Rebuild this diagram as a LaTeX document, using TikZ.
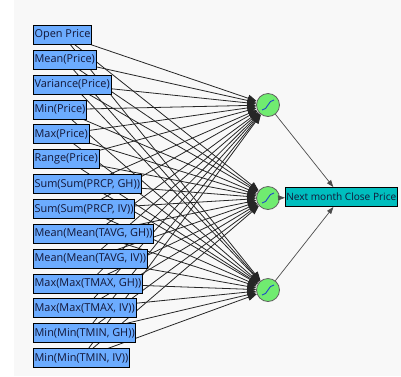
\documentclass[tikz,border=0pt]{standalone}
\usepackage{fontspec}
\setmainfont{Open Sans}
\usetikzlibrary{arrows.meta,backgrounds}

\definecolor{inBlue}{RGB}{108,172,255}
\definecolor{outTeal}{RGB}{0,190,190}
\definecolor{cellGreen}{RGB}{112,236,112}
\definecolor{sigBlue}{RGB}{30,70,200}
\definecolor{inkNavy}{RGB}{18,22,55}
\definecolor{paneGray}{RGB}{248,248,248}

\begin{document}
\begin{tikzpicture}[
    x=1pt, y=-1pt,
    font=\fontsize{10.9}{13}\selectfont,
    inbox/.style={draw=black, fill=inBlue, text=inkNavy, line width=0.9pt,
      inner xsep=1.2pt, inner ysep=0pt, minimum height=19pt, anchor=west},
    outbox/.style={draw=black, fill=outTeal, text=inkNavy, line width=0.9pt,
      font=\fontsize{10.1}{12}\selectfont,
      inner xsep=0.8pt, inner ysep=0pt, minimum height=19pt, anchor=west},
    neuron/.style={circle, draw=gray!75!black, fill=cellGreen, line width=0.8pt,
      minimum size=23pt, inner sep=0pt,
      path picture={\draw[sigBlue, line width=0.9pt]
        ([shift={(-6,5)}]path picture bounding box.center)
        .. controls +(6,0) and +(-6,0) ..
        ([shift={(6,-5)}]path picture bounding box.center);}},
    synapse/.style={-{Triangle[length=9pt,width=7pt]}, draw=black!85, line width=0.8pt},
    outlink/.style={-{Triangle[length=7pt,width=5pt]}, draw=black!70, line width=0.7pt},
  ]

\useasboundingbox (0,0) rectangle (401,376);

% ---- input features -------------------------------------------------
\foreach \lbl [count=\i] in {Open Price, Mean(Price), Variance(Price),
    Min(Price), Max(Price), Range(Price), {Sum(Sum(PRCP, GH))},
    {Sum(Sum(PRCP, IV))}, {Mean(Mean(TAVG, GH))}, {Mean(Mean(TAVG, IV))},
    {Max(Max(TMAX, GH))}, {Max(Max(TMAX, IV))}, {Min(Min(TMIN, GH))},
    {Min(Min(TMIN, IV))}}
  \node[inbox] (in\i) at (33,{10.15+24.85*\i}) {\lbl};

% ---- hidden layer ---------------------------------------------------
\node[neuron] (h1) at (268,105) {};
\node[neuron] (h2) at (268,198) {};
\node[neuron] (h3) at (268,290) {};

% ---- output ---------------------------------------------------------
\node[outbox] (out) at (285,197) {Next month Close Price};

\draw[outlink] (h1) -- (out);
\draw[outlink] (h2) -- (out);
\draw[outlink] (h3) -- (out);

% ---- pane and input links, behind the boxes -------------------------
\begin{scope}[on background layer]
  \fill[paneGray] (14,0) rectangle (401,376);
  \foreach \i in {1,...,14}
    \foreach \j in {1,2,3}
      \draw[synapse] (in\i.center) -- (h\j);
\end{scope}

\end{tikzpicture}
\end{document}
